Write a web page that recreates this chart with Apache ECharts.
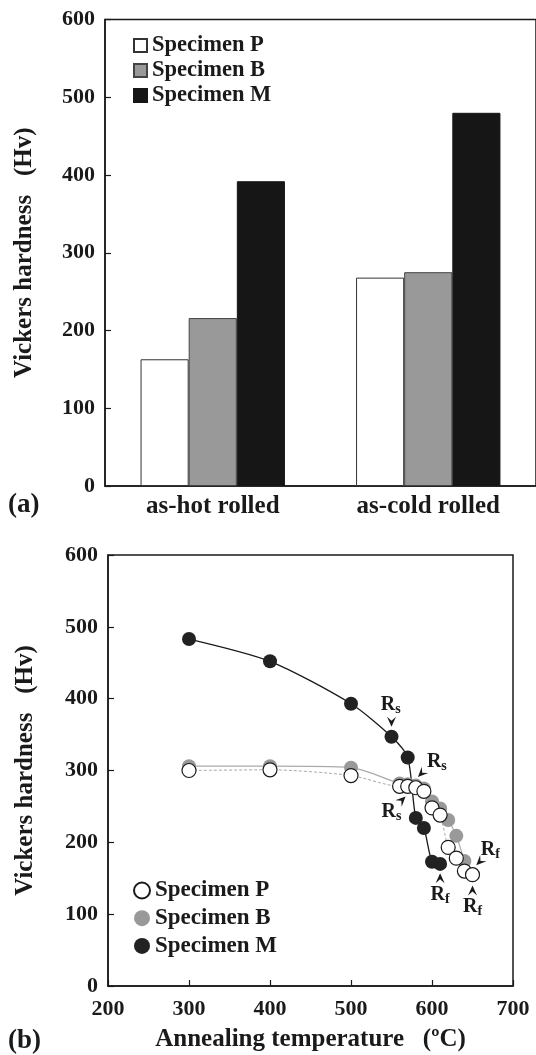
<!DOCTYPE html>
<html>
<head>
<meta charset="utf-8">
<script src="https://cdn.jsdelivr.net/npm/echarts@6/dist/echarts.min.js"></script>
<style>
html,body{margin:0;padding:0;background:#fff;}
#c{width:536px;height:1055px;}
</style>
</head>
<body>
<div id="c"></div>
<script>
// ---- Data: panel (a) ----
const barCategories = ['as-hot rolled', 'as-cold rolled'];
const seriesNames = ['Specimen P', 'Specimen B', 'Specimen M'];
const barP = [163, 268];
const barB = [216, 275];
const barM = [392, 480];

// ---- Data: panel (b) ----
const tempP = [300, 400, 500, 560, 570, 580, 590, 600, 610, 620, 630, 640, 650];
const hardP = [300, 301, 293, 278, 278, 276, 271, 248, 238, 193, 178, 160, 155];
const tempB = [300, 400, 500, 560, 570, 580, 590, 600, 610, 620, 630, 640];
const hardB = [306, 306, 304, 282, 281, 279, 275, 257, 247, 231, 209, 174];
const tempM = [300, 400, 500, 550, 570, 580, 590, 600, 610];
const hardM = [483, 452, 393, 347, 318, 234, 220, 173, 170];

// annotation labels (R_s / R_f) and arrows, in data units
const annotSub   = ['s', 's', 's', 'f', 'f', 'f'];
const annotLabel = [[549, 391], [606, 312], [550, 243], [610, 127], [650, 110], [672, 189]];
const annotArrow = [[550, 368], [587, 296], [563, 259], [610, 150], [650, 133], [659, 173]];
const annotDir   = ['down', 'downleft', 'upright', 'up', 'up', 'downleft'];

const yTickValues = [0, 100, 200, 300, 400, 500, 600];

const pair = (xs, ys) => xs.map((x, i) => [x, ys[i]]);
const FONT = "'Liberation Serif','DejaVu Serif',serif";
const rotMap = {down: 0, downleft: -45, upright: 135, up: 180};

const axisLine = {lineStyle: {color: '#1a1a1a', width: 1.5}};
const tickStyle = {inside: true, length: 6, lineStyle: {color: '#1a1a1a', width: 1.2}};
const tickLabel = {fontFamily: FONT, fontWeight: 'bold', fontSize: 22, color: '#1a1a1a'};
const nameStyle = {fontFamily: FONT, fontWeight: 'bold', fontSize: 25, color: '#1a1a1a'};

const arrowPath = 'path://M0,0 L5,4 L10,0 L5,10 Z';

const markData = [];
annotLabel.forEach((c, i) => {
  markData.push({
    coord: c, symbol: 'circle', symbolSize: 1,
    itemStyle: {color: 'rgba(0,0,0,0)'},
    label: {show: true, position: 'inside', formatter: '{r|R}{s|' + annotSub[i] + '}',
      rich: {
        r: {fontFamily: FONT, fontWeight: 'bold', fontSize: 20, color: '#1a1a1a'},
        s: {fontFamily: FONT, fontWeight: 'bold', fontSize: 14, color: '#1a1a1a', padding: [9, 0, 0, 0]}
      }}
  });
  markData.push({
    coord: annotArrow[i], symbol: arrowPath, symbolSize: [9, 10],
    symbolRotate: rotMap[annotDir[i]],
    itemStyle: {color: '#1a1a1a'}, label: {show: false}
  });
});

const chart = echarts.init(document.getElementById('c'), null, {renderer: 'canvas'});
chart.setOption({
  animation: false,
  backgroundColor: '#fff',
  textStyle: {fontFamily: FONT},
  grid: [
    {left: 105, top: 19.5, right: -2.3, bottom: 569, show: true, borderColor: '#1a1a1a', borderWidth: 1.5, containLabel: false},
    {left: 108, top: 555, right: 23, bottom: 69, show: true, borderColor: '#1a1a1a', borderWidth: 1.5, containLabel: false}
  ],
  legend: [
    {
      data: seriesNames.map(n => ({name: n, icon: 'rect'})),
      orient: 'vertical', left: 133, top: 34, padding: 0, itemWidth: 13, itemHeight: 13, itemGap: 2, itemTextGap: 5,
      textStyle: {fontFamily: FONT, fontWeight: 'bold', fontSize: 22.5, color: '#1a1a1a', lineHeight: 22},
      selectedMode: false
    },
    {
      data: ['Specimen P ', 'Specimen B ', 'Specimen M '].map(n => ({name: n, icon: 'circle'})),
      orient: 'vertical', left: 133, top: 879, padding: 0, itemWidth: 16, itemHeight: 16, itemGap: 4.7, itemTextGap: 10,
      formatter: n => n.trim(),
      textStyle: {fontFamily: FONT, fontWeight: 'bold', fontSize: 23, color: '#1a1a1a', lineHeight: 22},
      selectedMode: false
    }
  ],
  xAxis: [
    {
      gridIndex: 0, type: 'category', data: barCategories,
      axisLine: axisLine, axisTick: {inside: true, length: 6, lineStyle: {color: '#555', width: 1.2}},
      axisLabel: Object.assign({}, nameStyle, {margin: 8}),
    },
    {
      gridIndex: 1, type: 'value', min: 200, max: 700, interval: 100,
      axisLine: axisLine, axisTick: tickStyle, splitLine: {show: false},
      axisLabel: Object.assign({}, tickLabel, {margin: 12}),
      name: 'Annealing temperature   (\u00baC)', nameLocation: 'middle', nameGap: 41,
      nameTextStyle: nameStyle
    }
  ],
  yAxis: [
    {
      gridIndex: 0, type: 'value', min: 0, max: 600, interval: 100,
      axisLine: Object.assign({show: true}, axisLine), axisTick: Object.assign({show: true}, tickStyle),
      splitLine: {show: false},
      axisLabel: Object.assign({}, tickLabel, {margin: 10, formatter: v => yTickValues.includes(v) ? String(v) : ''}),
      name: 'Vickers hardness   (Hv)', nameLocation: 'middle', nameGap: 68, nameTextStyle: nameStyle
    },
    {
      gridIndex: 1, type: 'value', min: 0, max: 600, interval: 100,
      axisLine: Object.assign({show: true}, axisLine), axisTick: Object.assign({show: true}, tickStyle),
      splitLine: {show: false},
      axisLabel: Object.assign({}, tickLabel, {margin: 10}),
      name: 'Vickers hardness   (Hv)', nameLocation: 'middle', nameGap: 70, nameTextStyle: nameStyle
    }
  ],
  series: [
    {name: 'Specimen P', type: 'bar', xAxisIndex: 0, yAxisIndex: 0, data: barP, barGap: '0%', barCategoryGap: '33%',
     itemStyle: {color: '#ffffff', borderColor: '#333', borderWidth: 1}},
    {name: 'Specimen B', type: 'bar', xAxisIndex: 0, yAxisIndex: 0, data: barB, barGap: '0%', barCategoryGap: '33%',
     itemStyle: {color: '#999999', borderColor: '#444', borderWidth: 1}},
    {name: 'Specimen M', type: 'bar', xAxisIndex: 0, yAxisIndex: 0, data: barM, barGap: '0%', barCategoryGap: '33%',
     itemStyle: {color: '#161616', borderColor: '#161616', borderWidth: 1}},

    {name: 'Specimen B ', type: 'line', xAxisIndex: 1, yAxisIndex: 1, data: pair(tempB, hardB),
     smooth: 0.25, symbol: 'circle', symbolSize: 14, showAllSymbol: true,
     lineStyle: {color: '#aaaaaa', width: 1.2, type: 'solid'},
     itemStyle: {color: '#999999', borderColor: '#999999', borderWidth: 0}},
    {name: 'Specimen P ', type: 'line', xAxisIndex: 1, yAxisIndex: 1, data: pair(tempP, hardP),
     smooth: 0.25, symbol: 'circle', symbolSize: 14, showAllSymbol: true,
     lineStyle: {color: '#aaaaaa', width: 1, type: [3, 2]},
     itemStyle: {color: '#ffffff', borderColor: '#1a1a1a', borderWidth: 1.2}},
    {name: 'Specimen M ', type: 'line', xAxisIndex: 1, yAxisIndex: 1, data: pair(tempM, hardM),
     smooth: 0.25, symbol: 'circle', symbolSize: 14, showAllSymbol: true,
     lineStyle: {color: '#1a1a1a', width: 1.3},
     itemStyle: {color: '#222222', borderColor: '#222222', borderWidth: 0},
     markPoint: {silent: true, animation: false, data: markData}}
  ],
  graphic: [
    {type: 'text', left: 8, top: 492, style: {text: '(a)', font: "bold 27px 'Liberation Serif', serif", fill: '#1a1a1a'}},
    {type: 'text', left: 8, top: 1028, style: {text: '(b)', font: "bold 27px 'Liberation Serif', serif", fill: '#1a1a1a'}}
  ]
});
</script>
</body>
</html>
